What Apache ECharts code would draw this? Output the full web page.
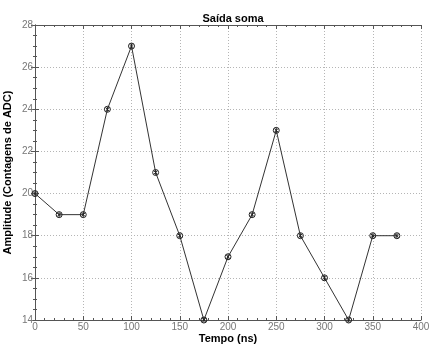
<!DOCTYPE html>
<html>
<head>
<meta charset="utf-8">
<script src="https://cdn.jsdelivr.net/npm/echarts@6/dist/echarts.min.js"></script>
<style>
  html, body { margin: 0; padding: 0; background: #fff; }
  #chart { width: 429px; height: 345px; }
</style>
</head>
<body>
<div id="chart"></div>
<script>
// Time samples (ns) and summed ADC amplitude
const tempo = [0, 25, 50, 75, 100, 125, 150, 175, 200, 225, 250, 275, 300, 325, 350, 375];
const amplitude = [20, 19, 19, 24, 27, 21, 18, 14, 17, 19, 23, 18, 16, 14, 18, 18];

const points = tempo.map((t, i) => [t, amplitude[i]]);

const FONT = '"Liberation Sans", Arial, sans-serif';
const axisLineStyle = { color: '#555', width: 1 };
const tickStyle = { color: '#555', width: 1 };
const gridLine = { show: true, lineStyle: { color: '#b5b5b5', type: [1, 2], width: 1 } };

// circle with a cross inside
const markerPath = 'path://M0,-5A5,5 0 1,1 0,5A5,5 0 1,1 0,-5ZM-3,-3L3,3M3,-3L-3,3M0,-4L0,4';

const chart = echarts.init(document.getElementById('chart'), null, { renderer: 'canvas' });
chart.setOption({
  animation: false,
  backgroundColor: '#fff',
  title: {
    text: 'Saída soma',
    left: 228, top: 8, textAlign: 'center',
    textStyle: { fontFamily: FONT, fontSize: 11, fontWeight: 'bold', color: '#000' }
  },
  grid: { left: 35, right: 8, top: 25, bottom: 25, containLabel: false, outerBoundsMode: 'none' },
  xAxis: [{
    type: 'value', min: 0, max: 400, interval: 50,
    name: 'Tempo (ns)', nameLocation: 'middle', nameGap: 13, nameMoveOverlap: false,
    nameTextStyle: { fontFamily: FONT, fontSize: 11, fontWeight: 'bold', color: '#000' },
    axisLine: { show: true, lineStyle: axisLineStyle },
    axisTick: { show: true, inside: true, length: 4, lineStyle: tickStyle },
    minorTick: { show: true, splitNumber: 5, length: 2, lineStyle: tickStyle },
    axisLabel: { fontFamily: FONT, fontSize: 10, color: '#777', margin: 2 },
    splitLine: gridLine
  }, {
    type: 'value', min: 0, max: 400, interval: 50, position: 'top',
    axisLine: { show: true, lineStyle: axisLineStyle },
    axisTick: { show: true, inside: true, length: 4, lineStyle: tickStyle },
    minorTick: { show: true, splitNumber: 5, length: 2, lineStyle: tickStyle },
    axisLabel: { show: false }, splitLine: { show: false }
  }],
  yAxis: [{
    type: 'value', min: 14, max: 28, interval: 2,
    name: 'Amplitude (Contagens de ADC)', nameLocation: 'middle', nameGap: 22, nameMoveOverlap: false,
    nameTextStyle: { fontFamily: FONT, fontSize: 11, fontWeight: 'bold', color: '#000' },
    axisLine: { show: true, lineStyle: axisLineStyle },
    axisTick: { show: true, inside: true, length: 4, lineStyle: tickStyle },
    minorTick: { show: true, splitNumber: 4, length: 2, lineStyle: tickStyle },
    axisLabel: { fontFamily: FONT, fontSize: 10, color: '#777', margin: 2 },
    splitLine: gridLine
  }, {
    type: 'value', min: 14, max: 28, interval: 2, position: 'right',
    axisLine: { show: true, lineStyle: axisLineStyle },
    axisTick: { show: true, inside: true, length: 4, lineStyle: tickStyle },
    minorTick: { show: true, splitNumber: 4, length: 2, lineStyle: tickStyle },
    axisLabel: { show: false }, splitLine: { show: false }
  }],
  series: [{
    type: 'line',
    data: points,
    lineStyle: { color: '#333', width: 1 },
    symbol: markerPath,
    symbolSize: 6,
    showAllSymbol: true,
    itemStyle: { color: 'rgba(0,0,0,0)', borderColor: '#222', borderWidth: 1 }
  }]
});
</script>
</body>
</html>
